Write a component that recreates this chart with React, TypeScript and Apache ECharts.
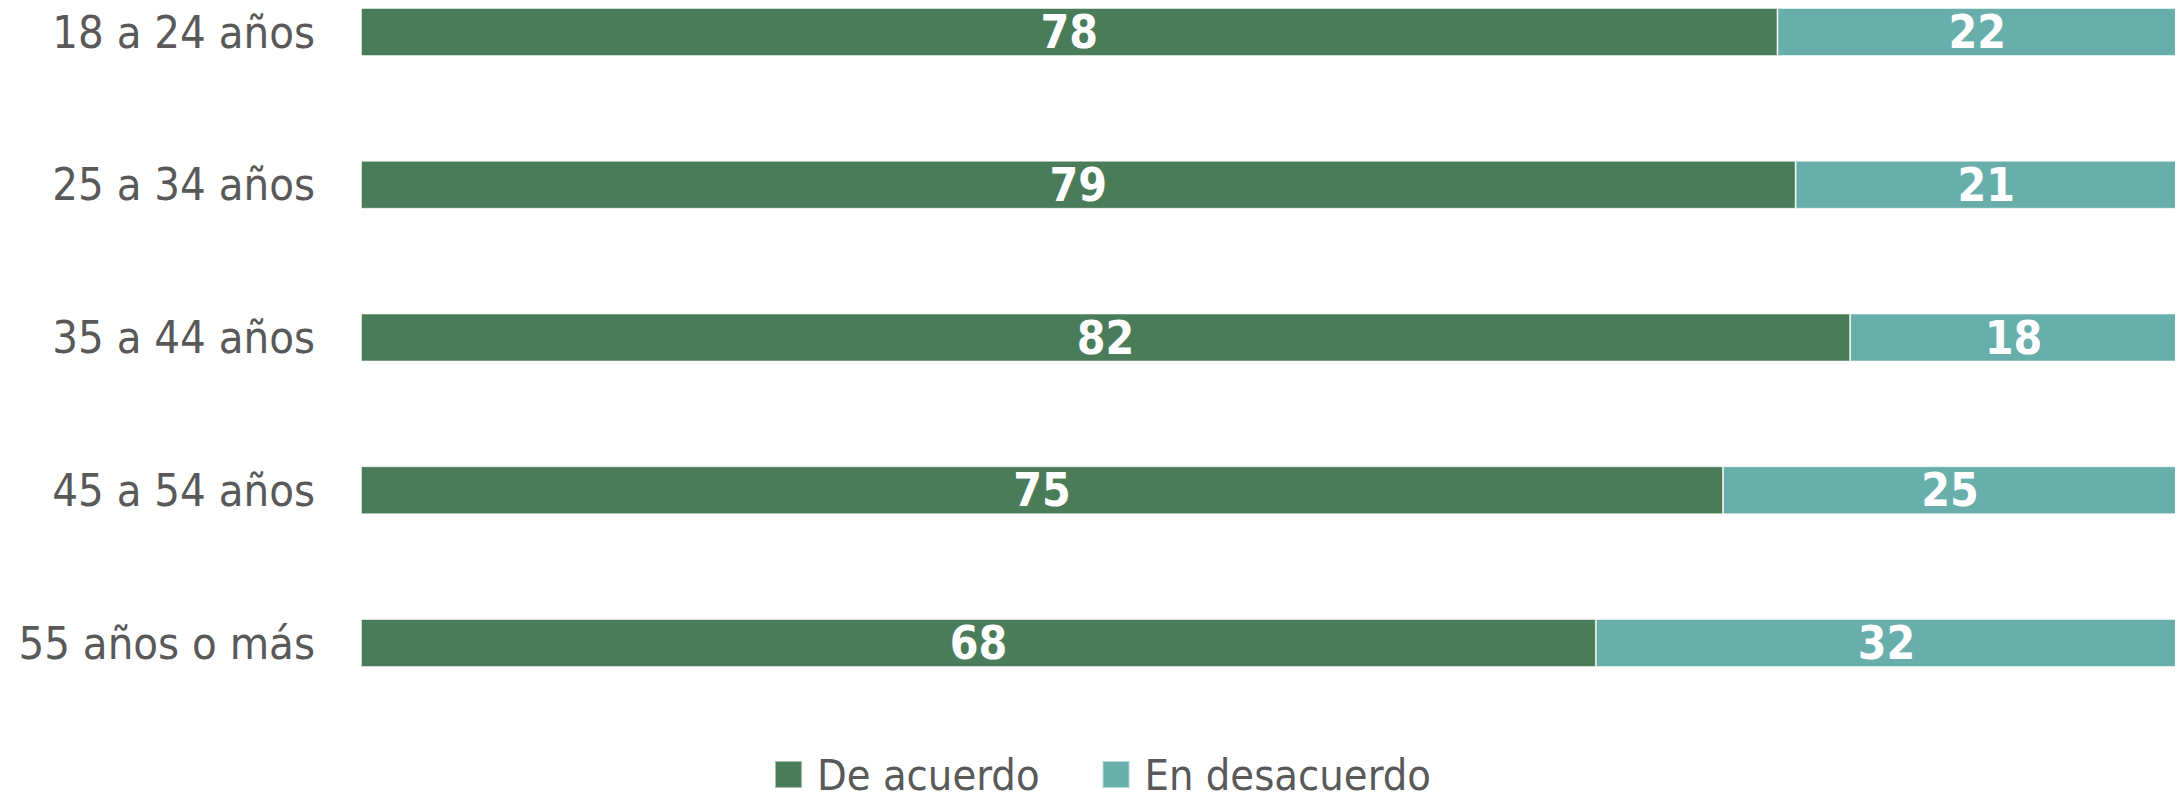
import React, { useEffect, useRef } from "react";
import * as echarts from "echarts";

const categories = ["18 a 24 años", "25 a 34 años", "35 a 44 años", "45 a 54 años", "55 años o más"];
const deAcuerdo = [78, 79, 82, 75, 68];
const enDesacuerdo = [22, 21, 18, 25, 32];
const seriesNames = ["De acuerdo", "En desacuerdo"];

const FONT = "'DejaVu Sans Condensed', 'DejaVu Sans', sans-serif";

export default function App() {
  const ref = useRef<HTMLDivElement>(null);
  useEffect(() => {
    if (!ref.current) return;
    const chart = echarts.init(ref.current, undefined, { renderer: "svg" });
    const labelStyle = {
      show: true,
      position: "inside",
      color: "#ffffff",
      fontWeight: "bold",
      fontSize: 46,
      fontFamily: FONT,
    };
    chart.setOption({
      animation: false,
      grid: { left: 361, right: 6, top: 32, bottom: 161, containLabel: false },
      xAxis: {
        type: "value",
        min: 0,
        max: 100,
        show: false,
      },
      yAxis: {
        type: "category",
        data: categories,
        inverse: true,
        boundaryGap: false,
        axisLine: { show: false },
        axisTick: { show: false },
        splitLine: { show: false },
        axisLabel: {
          color: "#595959",
          fontSize: 45,
          fontFamily: FONT,
          margin: 46,
        },
      },
      legend: {
        left: 774,
        top: 753,
        padding: 0,
        itemWidth: 27,
        itemHeight: 27,
        itemGap: 62,
        icon: "rect",
        textStyle: { color: "#595959", fontSize: 43, lineHeight: 34, fontFamily: FONT, padding: [0, 0, 0, 10] },
        data: seriesNames,
      },
      series: [
        {
          name: seriesNames[0],
          type: "bar",
          stack: "total",
          barWidth: 48,
          data: deAcuerdo,
          itemStyle: { color: "#4A7C59", borderColor: "rgba(255,255,255,0.5)", borderWidth: 1 },
          label: labelStyle,
        },
        {
          name: seriesNames[1],
          type: "bar",
          stack: "total",
          barWidth: 48,
          data: enDesacuerdo,
          itemStyle: { color: "#68AFAB", borderColor: "rgba(255,255,255,0.5)", borderWidth: 1 },
          label: labelStyle,
        },
      ],
    });
    return () => chart.dispose();
  }, []);
  return <div ref={ref} style={{ width: 2183, height: 804, marginLeft: -8, marginTop: -8 }} />;
}
